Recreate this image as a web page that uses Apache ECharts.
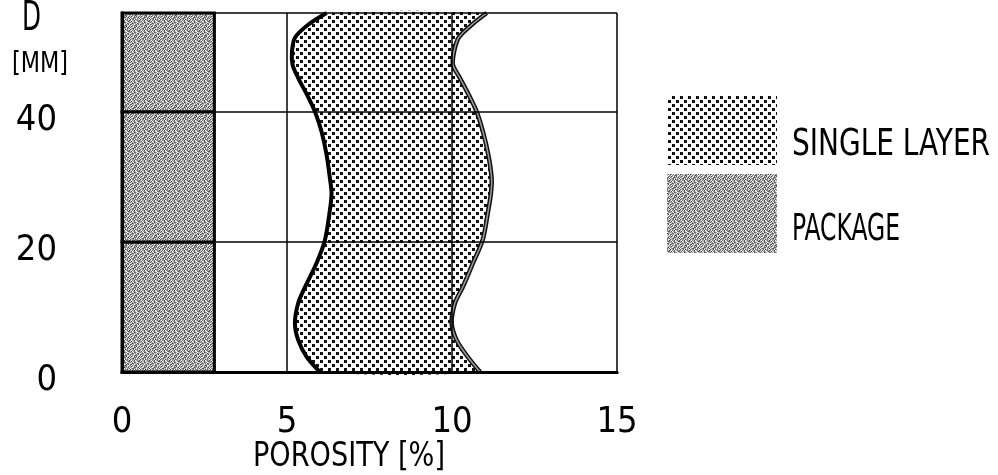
<!DOCTYPE html>
<html><head><meta charset="utf-8">
<script src="https://cdn.jsdelivr.net/npm/echarts@6/dist/echarts.min.js"></script>
<style>html,body{margin:0;padding:0;background:#fff}#c{width:998px;height:475px}</style>
</head><body><div id="c"></div>
<script>
// ---- data ----
const xTicks = [0, 5, 10, 15];
const yTicks = [0, 20, 40];
const depth = [0, 2.3, 4.9, 7.5, 10.6, 13.1, 16.8, 20.3, 24.9, 27.5, 29.8, 33.4, 36.9, 40, 42.2, 45.2, 47.2, 49.2, 51.4, 53.4, 55.2];
const singleLayerMin = [6.0, 5.6, 5.34, 5.24, 5.34, 5.55, 5.9, 6.15, 6.3, 6.35, 6.3, 6.2, 6.05, 5.85, 5.65, 5.34, 5.17, 5.15, 5.24, 5.64, 6.2];
const singleLayerMax = [10.85, 10.48, 10.14, 9.99, 10.09, 10.33, 10.64, 10.93, 11.1, 11.18, 11.2, 11.1, 10.94, 10.75, 10.55, 10.24, 10.03, 10.06, 10.2, 10.6, 11.05];
const packagePorosity = 2.8;
const packageLayerBottoms = [0, 20, 40];
const packageLayerTops = [20, 40, 55.2];
const legendNames = ['SINGLE LAYER', 'PACKAGE'];
const xName = 'POROSITY [%]';
const yName = ['D', '[MM]'];

const FONT = '"DejaVu Sans Condensed", "DejaVu Sans", sans-serif';

function dotCanvas() {
  const c = document.createElement('canvas'); c.width = 8; c.height = 8;
  const g = c.getContext('2d');
  g.fillStyle = '#fff'; g.fillRect(0, 0, 8, 8);
  g.fillStyle = '#111'; g.fillRect(0, 0, 3, 3); g.fillRect(4, 4, 3, 3);
  return c;
}
function greyCanvas() {
  const map = [
    '2031402314',
    '1402310243',
    '3120432012',
    '0243120431',
    '4312023140',
    '2031243102',
    '1420314023',
    '3102431240',
    '0234120314',
    '4123042310'
  ];
  const shades = ['#ffffff', '#c8c8c8', '#a0a0a0', '#777777', '#4a4a4a'];
  const c = document.createElement('canvas'); c.width = 10; c.height = 10;
  const g = c.getContext('2d');
  for (let y = 0; y < 10; y++) for (let x = 0; x < 10; x++) {
    g.fillStyle = shades[+map[y][x]]; g.fillRect(x, y, 1, 1);
  }
  return c;
}
const dotFill = { image: dotCanvas(), repeat: 'repeat' };
const greyFill = { image: greyCanvas(), repeat: 'repeat' };

const mctx = document.createElement('canvas').getContext('2d');
function fitScale(text, size, targetWidth) {
  mctx.font = size + 'px ' + FONT;
  return targetWidth / mctx.measureText(text).width;
}
function label(text, x, yCenter, size, targetWidth) {
  return { type: 'text', x: x, y: yCenter + 3, scaleX: fitScale(text, size, targetWidth),
    style: { text: text, font: size + 'px ' + FONT, fill: '#000', align: 'left', verticalAlign: 'middle' } };
}

const chart = echarts.init(document.getElementById('c'), null, { renderer: 'canvas' });

const axisLineStyle = { lineStyle: { color: '#000', width: 3 } };
const labelStyle = { color: '#000', fontFamily: FONT, fontSize: 36 };

chart.setOption({
  animation: false,
  backgroundColor: '#fff',
  grid: { left: 122, top: 13, width: 495, height: 359 },
  xAxis: [
    { type: 'value', min: 0, max: 15, interval: 5, position: 'bottom', z: 10,
      axisLine: axisLineStyle, axisTick: { show: false },
      splitLine: { show: true, lineStyle: { color: '#000', width: 1.5 } },
      axisLabel: Object.assign({ margin: 33, formatter: v => xTicks.includes(v) ? String(v) : '' }, labelStyle) },
    { type: 'value', min: 0, max: 15, position: 'top', z: 10,
      axisLine: axisLineStyle, axisTick: { show: false }, axisLabel: { show: false }, splitLine: { show: false } }
  ],
  yAxis: [
    { type: 'value', min: 0, max: 55.2, interval: 20, position: 'left', z: 10,
      axisLine: axisLineStyle, axisTick: { show: false },
      splitLine: { show: true, lineStyle: { color: '#000', width: 1.5 } },
      axisLabel: Object.assign({ margin: 65, verticalAlign: 'top', lineHeight: 18, formatter: v => yTicks.includes(v) ? String(v) : '' }, labelStyle) },
    { type: 'value', min: 0, max: 55.2, position: 'right', z: 10,
      axisLine: axisLineStyle, axisTick: { show: false }, axisLabel: { show: false }, splitLine: { show: false } }
  ],
  series: [
    {
      name: legendNames[1], type: 'custom', xAxisIndex: 0, yAxisIndex: 0, z: 2,
      data: packageLayerBottoms.map((b, i) => [0, packagePorosity, b, packageLayerTops[i]]),
      renderItem: function (params, api) {
        const p0 = api.coord([api.value(0), api.value(3)]);
        const p1 = api.coord([api.value(1), api.value(2)]);
        return { type: 'rect', shape: { x: p0[0], y: p0[1], width: p1[0] - p0[0], height: p1[1] - p0[1] },
          style: { fill: greyFill, stroke: '#000', lineWidth: 3 } };
      }
    },
    {
      name: legendNames[0], type: 'custom', xAxisIndex: 0, yAxisIndex: 0, z: 3,
      data: depth.map((d, i) => [singleLayerMin[i], singleLayerMax[i], d]),
      renderItem: function (params, api) {
        if (params.dataIndex !== 0) return null;
        const left = depth.map((d, i) => api.coord([singleLayerMin[i], d]));
        const right = depth.map((d, i) => api.coord([singleLayerMax[i], d]));
        const poly = left.concat(right.slice().reverse());
        return { type: 'group', children: [
          { type: 'polygon', shape: { points: poly, smooth: 0.3 }, style: { fill: dotFill } },
          { type: 'polyline', shape: { points: left, smooth: 0.3 }, style: { stroke: '#000', lineWidth: 4, fill: null } },
          { type: 'polyline', shape: { points: right, smooth: 0.3 }, style: { stroke: '#111', lineWidth: 4.5, fill: null } },
          { type: 'polyline', shape: { points: right, smooth: 0.3 }, style: { stroke: '#9a9a9a', lineWidth: 1.5, fill: null } }
        ] };
      }
    }
  ],
  graphic: [
    label(yName[0], 22, 17, 40, 19),
    label(yName[1], 12, 62, 28, 56),
    label(xName, 253, 454, 34, 192),
    { type: 'rect', shape: { x: 667, y: 95, width: 110, height: 70 }, style: { fill: dotFill } },
    { type: 'rect', shape: { x: 667, y: 174, width: 110, height: 79 }, style: { fill: greyFill } },
    label(legendNames[0], 792, 142, 37, 198),
    label(legendNames[1], 792, 227, 37, 108)
  ]
});
</script></body></html>
